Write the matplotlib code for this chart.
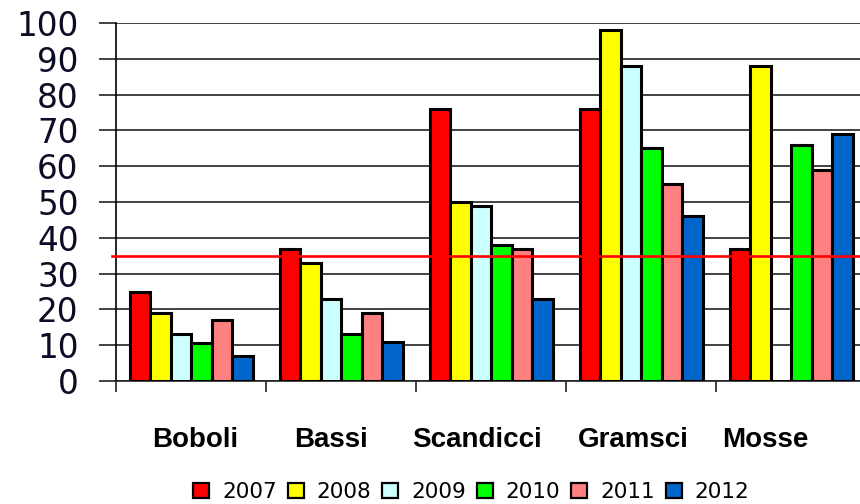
import numpy as np
import matplotlib
matplotlib.use("Agg")
import matplotlib.pyplot as plt
import matplotlib.patches as mpatches

# dati per sede e anno
sedi = ["Boboli", "Bassi", "Scandicci", "Gramsci", "Mosse"]
anni = ["2007", "2008", "2009", "2010", "2011", "2012"]
v2007 = [25, 37, 76, 76, 37]
v2008 = [19, 33, 50, 98, 88]
v2009 = [13, 23, 49, 88, 0]
v2010 = [10.5, 13, 38, 65, 66]
v2011 = [17, 19, 37, 55, 59]
v2012 = [7, 11, 23, 46, 69]
soglia = 35

serie = [v2007, v2008, v2009, v2010, v2011, v2012]
colori = ["#ff0000", "#ffff00", "#ccffff", "#00ff00", "#ff8080", "#0066cc"]

# posizione delle etichette rispetto al centro del gruppo
label_shift = [0.03, -0.07, -0.09, -0.05, -0.17]

fig = plt.figure(figsize=(8.6, 5.04), dpi=100)
ax = fig.add_axes([116 / 860, 123 / 504, 744 / 860, 358 / 504])

x = np.arange(len(sedi))
w = 0.82 / len(anni)
for i, (vals, col) in enumerate(zip(serie, colori)):
    pos = x - 0.41 + w * (i + 0.5)
    ax.bar(pos, vals, width=w, color=col, edgecolor="black", linewidth=2.2,
           zorder=3)

# linea di soglia
ax.plot([-0.527, 4.46], [soglia, soglia], color="#ff0000", linewidth=1.9,
        zorder=4, clip_on=False)

ax.set_xlim(-0.5, 4.46)
ax.set_ylim(0, 100)
ax.set_yticks(np.arange(0, 101, 10))
ax.set_xticks(np.arange(len(sedi)) - 0.5)
ax.set_xticklabels([])
ax.grid(axis="y", color="#222222", linewidth=1.2, zorder=0)
ax.set_axisbelow(True)

for s in ["top", "right"]:
    ax.spines[s].set_visible(False)
ax.spines["left"].set_linewidth(1.2)
ax.spines["bottom"].set_linewidth(1.2)
ax.spines["bottom"].set_color("#222222")

ax.tick_params(axis="y", length=12.5, width=1.2, color="#222222", pad=14.5,
               labelsize=23.5, labelcolor="#0c0c24")
ax.tick_params(axis="x", length=8, width=1.2, color="#222222")
for t in ax.get_yticklabels():
    t.set_fontfamily("DejaVu Sans")

for i, nome in enumerate(sedi):
    ax.text(x[i] + label_shift[i], -18.4, nome, ha="center", va="baseline",
            fontsize=20, fontweight="bold", family="Liberation Sans",
            clip_on=False)

handles = [mpatches.Patch(facecolor=c, edgecolor="black", linewidth=1.6)
           for c in colori]
fig.legend(handles, anni, loc="center", bbox_to_anchor=(0.548, 0.024),
           ncol=6, frameon=False, handlelength=0.75,
           handleheight=0.75, handletextpad=0.6, columnspacing=0.5,
           borderpad=0, prop={"family": "DejaVu Sans", "size": 15.5})

fig.savefig("out.png", dpi=100)
